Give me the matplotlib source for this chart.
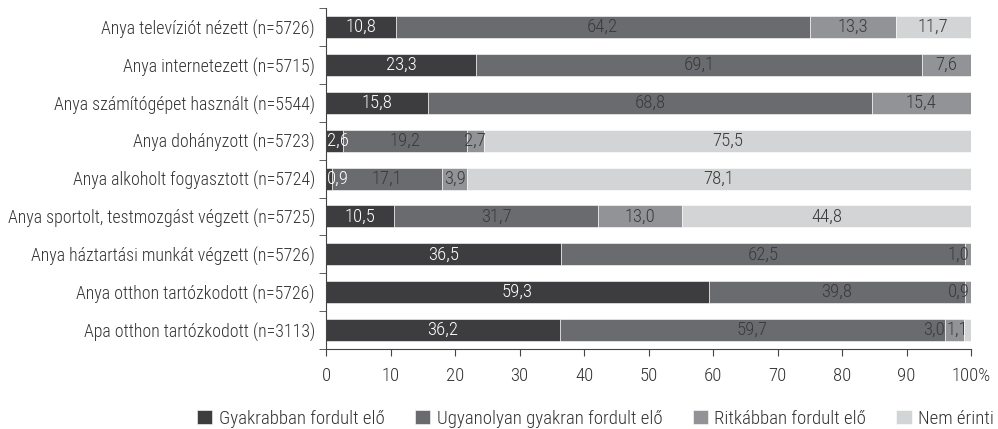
import matplotlib
matplotlib.use("Agg")
import matplotlib.pyplot as plt
import numpy as np

plt.rcParams['font.family'] = ['Roboto Condensed', 'Roboto', 'DejaVu Sans']
plt.rcParams['font.weight'] = 'light'

categories = [
    'Anya televíziót nézett (n=5726)',
    'Anya internetezett (n=5715)',
    'Anya számítógépet használt (n=5544)',
    'Anya dohányzott (n=5723)',
    'Anya alkoholt fogyasztott (n=5724)',
    'Anya sportolt, testmozgást végzett (n=5725)',
    'Anya háztartási munkát végzett (n=5726)',
    'Anya otthon tartózkodott (n=5726)',
    'Apa otthon tartózkodott (n=3113)',
]
gyakrabban = [10.8, 23.3, 15.8, 2.6, 0.9, 10.5, 36.5, 59.3, 36.2]
ugyanolyan = [64.2, 69.1, 68.8, 19.2, 17.1, 31.7, 62.5, 39.8, 59.7]
ritkabban = [13.3, 7.6, 15.4, 2.7, 3.9, 13.0, 1.0, 0.9, 3.0]
nem_erinti = [11.7, 0.0, 0.0, 75.5, 78.1, 44.8, 0.0, 0.0, 1.1]

series_names = ['Gyakrabban fordult elő', 'Ugyanolyan gyakran fordult elő',
                'Ritkábban fordult elő', 'Nem érinti']
colors = ['#3d3d3f', '#6a6b6e', '#929397', '#d3d4d6']
text_colors = ['white', '#3a3a3a', '#3a3a3a', '#3a3a3a']

# kézi eltolás az egymásra csúszó címkékhez (sor, sorozat): eltolás %-ban
nudge = {(8, 2): -3.1, (8, 3): -0.3}

fs = 13.5

fig = plt.figure(figsize=(9.98, 4.29), dpi=100)
ax = fig.add_axes([0.3267, 0.1865, 0.6463, 0.7945])

y = np.arange(len(categories))
left = np.zeros(len(categories))
data = [gyakrabban, ugyanolyan, ritkabban, nem_erinti]
for s, vals in enumerate(data):
    vals = np.array(vals)
    ax.barh(y, vals, left=left, height=0.58, color=colors[s],
            edgecolor='white', linewidth=0.4, label=series_names[s])
    for i, v in enumerate(vals):
        if v <= 0:
            continue
        x = left[i] + v / 2
        x = min(max(x, 1.8), 98.1)
        x += nudge.get((i, s), 0)
        ax.text(x, y[i], f'{v:.1f}'.replace('.', ','), ha='center', va='center',
                color=text_colors[s], fontsize=fs)
    left += vals

ax.set_ylim(len(categories) - 0.5, -0.5)
ax.set_xlim(0, 100)
ax.set_yticks(y)
ax.set_yticklabels(categories, fontsize=12.9, color='#333333')
ax.set_yticks(np.arange(-0.5, len(categories)), minor=True)
ax.tick_params(axis='y', which='major', length=0, pad=8)
ax.tick_params(axis='y', which='minor', length=5, direction='out', color='#444444')

ax.set_xticks(np.arange(0, 101, 10))
ax.set_xticklabels([str(t) for t in range(0, 100, 10)] + ['100%'], fontsize=fs, color='#333333')
ax.tick_params(axis='x', length=5, direction='out', color='#444444', pad=8)

for side in ['top', 'right']:
    ax.spines[side].set_visible(False)
ax.spines['left'].set_color('#444444')
ax.spines['bottom'].set_color('#444444')

fig.legend(loc='lower right', bbox_to_anchor=(0.996, 0.003), ncol=4, frameon=False,
           fontsize=13.6, handlelength=0.8, handleheight=0.8, columnspacing=1.6,
           handletextpad=0.35, labelcolor='#333333', borderpad=0, borderaxespad=0)

fig.savefig('out.png', dpi=100)
